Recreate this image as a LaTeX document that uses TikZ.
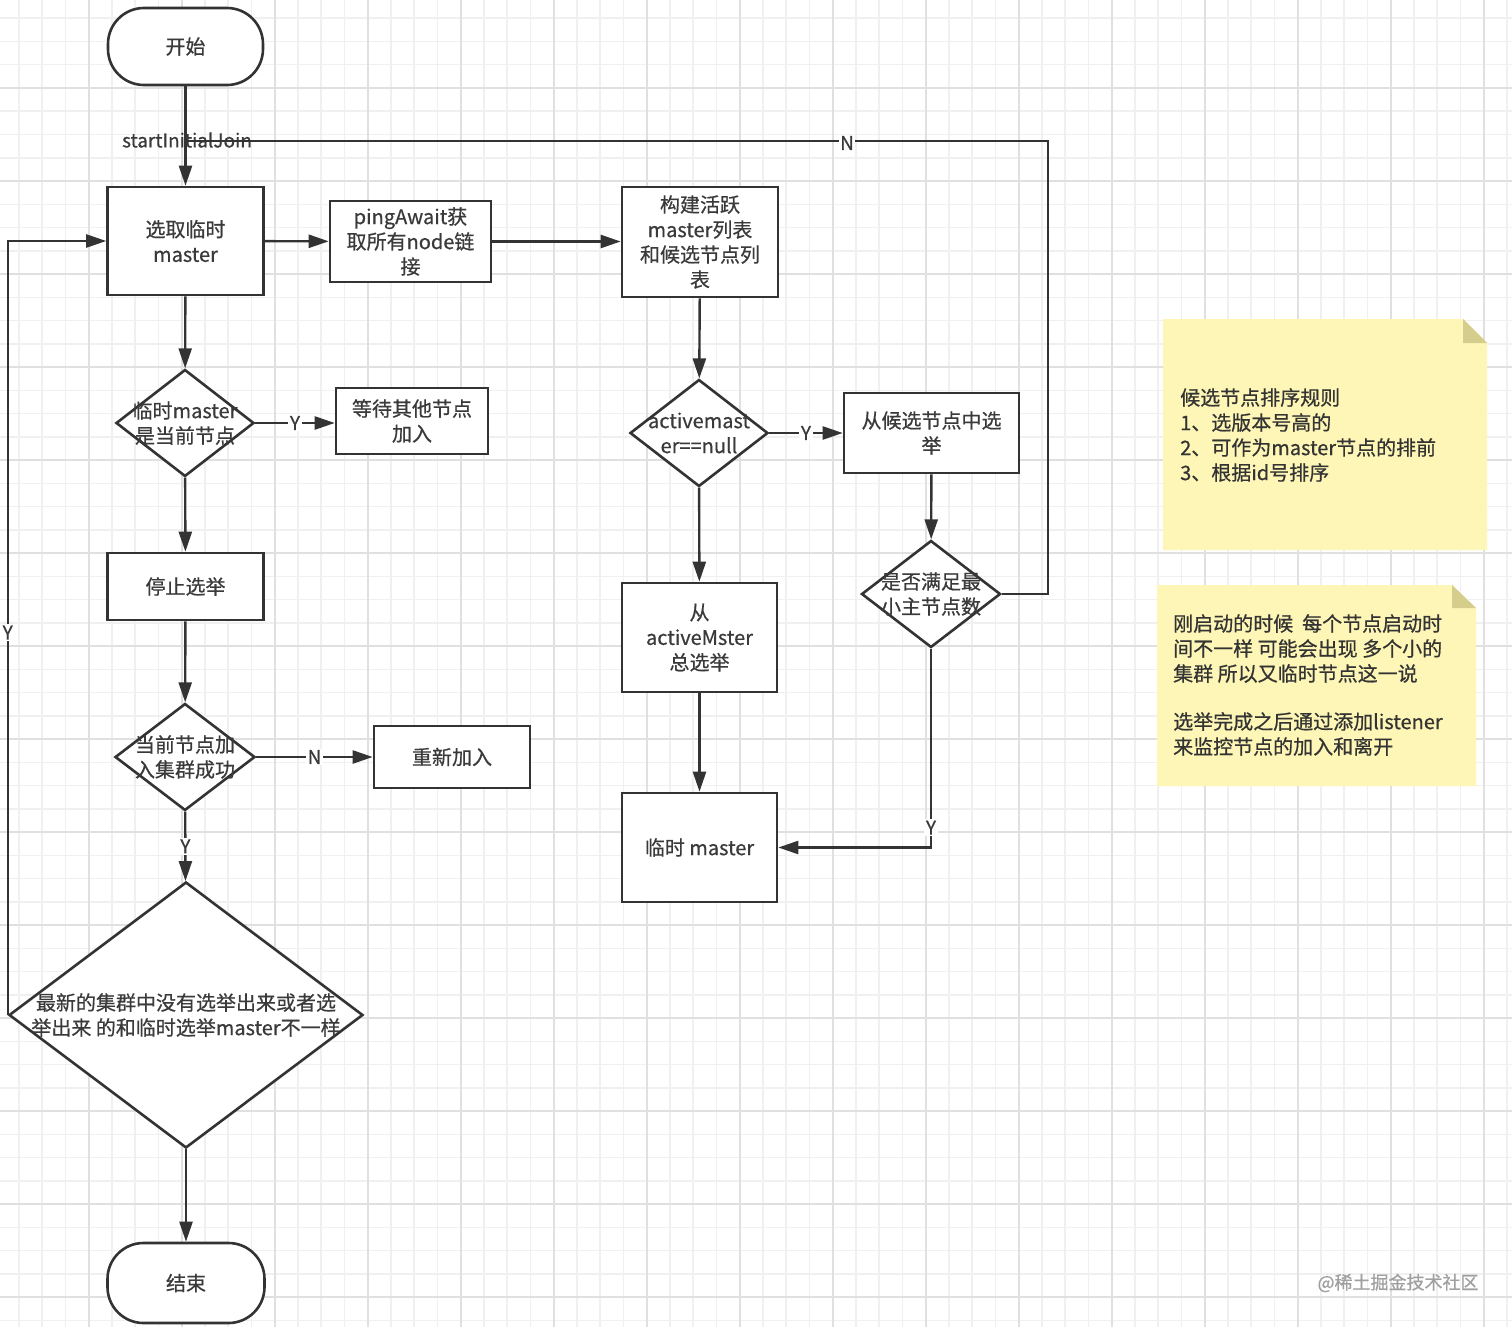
\documentclass[tikz,border=0pt]{standalone}
\usepackage{fontspec}
\setmainfont{Noto Sans CJK SC}[FakeBold=0.6]
\usetikzlibrary{arrows.meta,shapes.geometric}
\definecolor{ink}{RGB}{51,51,51}
\definecolor{txt}{RGB}{58,58,58}
\definecolor{gridminor}{RGB}{240,240,240}
\definecolor{gridmajor}{RGB}{224,224,224}
\definecolor{notefill}{RGB}{253,246,182}
\definecolor{notefold}{RGB}{212,205,140}
\definecolor{wm}{RGB}{160,160,160}
\begin{document}
\begin{tikzpicture}[x=1pt,y=-1pt,
  every node/.style={font=\fontsize{20}{25}\selectfont, text=txt},
  box/.style={draw=ink, line width=2.6pt, fill=white, align=center, inner sep=0pt},
  term/.style={box, rounded corners=36pt},
  dia/.style={draw=ink, line width=2.6pt, fill=white, diamond, inner sep=0pt},
  dtext/.style={align=center, inner sep=0pt},
  conn/.style={draw=ink, line width=2.4pt},
  arr/.style={conn, -{Triangle[length=20pt,width=13pt]}},
  lab/.style={fill=white, inner sep=1.5pt, font=\fontsize{19}{22}\selectfont},
  notetext/.style={align=left, inner sep=0pt, anchor=west, text=ink},
]
\useasboundingbox (0,0) rectangle (1512,1327);
\fill[white] (0,0) rectangle (1512,1327);
% grid
\foreach \i in {0,...,65} \draw[gridminor, line width=1.5pt] ({-4.3+\i*23.25},0) -- ({-4.3+\i*23.25},1327);
\foreach \i in {0,...,57} \draw[gridminor, line width=1.5pt] (0,{-5+\i*23.25}) -- (1512,{-5+\i*23.25});
\foreach \i in {0,...,15} \draw[gridmajor, line width=2pt] ({88.7+\i*93},0) -- ({88.7+\i*93},1327);
\foreach \i in {0,...,13} \draw[gridmajor, line width=2pt] (0,{88+\i*93}) -- (1512,{88+\i*93});

% nodes
\node[term, minimum width=155pt, minimum height=77pt] (start) at (185.5,46.5) {开始};
\node[box, minimum width=156pt, minimum height=108pt] (sel) at (185.5,241) {选取临时\\master};
\node[box, minimum width=161pt, minimum height=81pt] (ping) at (410.5,241.5) {pingAwait获\\取所有node链\\接};
\node[box, minimum width=156pt, minimum height=110pt] (build) at (700,242) {构建活跃\\master列表\\和候选节点列\\表};
\node[dia, minimum width=138pt, minimum height=107pt] (d1) at (185,423) {};
\node[dtext] (d1t) at (d1) {临时master\\是当前节点};
\node[box, minimum width=152pt, minimum height=66pt] (wait) at (412,421) {等待其他节点\\加入};
\node[box, minimum width=156pt, minimum height=67pt] (stop) at (185.5,586.5) {停止选举};
\node[dia, minimum width=140pt, minimum height=107pt] (d2) at (185,757) {};
\node[dtext] (d2t) at (d2) {当前节点加\\入集群成功};
\node[box, minimum width=156pt, minimum height=62pt] (rejoin) at (452,757) {重新加入};
\node[dia, minimum width=354pt, minimum height=266pt] (d3) at (186,1015) {};
\node[dtext] (d3t) at (d3) {最新的集群中没有选举出来或者选\\举出来 的和临时选举master不一样};
\node[term, minimum width=157pt, minimum height=80pt] (end) at (186,1283) {结束};
\node[dia, minimum width=138pt, minimum height=107pt] (d4) at (699,433) {};
\node[dtext] (d4t) at (d4) {activemast\\er==null};
\node[box, minimum width=175pt, minimum height=80pt] (cand) at (931.5,433) {从候选节点中选\\举};
\node[dia, minimum width=139pt, minimum height=107pt] (d5) at (931,594) {};
\node[dtext] (d5t) at (d5) {是否满足最\\小主节点数};
\node[box, minimum width=155pt, minimum height=109pt] (act) at (699.5,637.5) {从\\activeMster\\总选举};
\node[box, minimum width=155pt, minimum height=109pt] (tm) at (699.5,847.5) {临时 master};

% connectors
\draw[arr] (start) -- (sel);
\node[inner sep=0pt, font=\fontsize{19}{22}\selectfont] (sij) at (187,140) {startInitialJoin};
\coordinate (nr) at (1048,141);
\coordinate (join) at (185,141);
\draw[conn] (d5.east) -| (nr) -- (join);
\node[lab] (nlab) at (847,143) {N};
\draw[arr] (sel) -- (ping);
\draw[arr] (ping.east) -- (build.west |- ping.east);
\draw[arr] (build) -- (d4);
\draw[arr] (d4) -- node[lab]{Y} (cand);
\draw[arr] (cand) -- (d5);
\draw[arr] (d4) -- (act);
\draw[arr] (act) -- (tm);
\draw[arr] (d5.south) |- node[lab, pos=0.45]{Y} (tm.east);
\draw[arr] (sel) -- (d1);
\draw[arr] (d1.east) -- node[lab]{Y} (wait.west |- d1.east);
\draw[arr] (d1) -- (stop);
\draw[arr] (stop) -- (d2);
\draw[arr] (d2) -- node[lab]{N} (rejoin);
\draw[arr] (d2) -- node[lab]{Y} (d3);
\draw[arr] (d3) -- (end);
\draw[arr] (d3.west) |- node[lab, pos=0.247]{Y} (sel.west);

% notes
\fill[notefill] (1163,319) -- (1463,319) -- (1487,343) -- (1487,550) -- (1163,550) -- cycle;
\fill[notefold] (1463,319) -- (1463,343) -- (1487,343) -- cycle;
\node[notetext] (note1) at (1180,435) {候选节点排序规则\\1、选版本号高的\\2、可作为master节点的排前\\3、根据id号排序};
\fill[notefill] (1157,585) -- (1452,585) -- (1476,608) -- (1476,786) -- (1157,786) -- cycle;
\fill[notefold] (1452,585) -- (1452,608) -- (1476,608) -- cycle;
\node[notetext] (note2) at (1173,685) {刚启动的时候~~每个节点启动时\\间不一样 可能会出现 多个小的\\集群 所以又临时节点这一说\\[23pt]选举完成之后通过添加listener\\来监控节点的加入和离开};

% watermark
\node[text=wm, font=\fontsize{18}{20}\selectfont] (wmark) at (1398,1283) {@稀土掘金技术社区};
\end{tikzpicture}
\end{document}
